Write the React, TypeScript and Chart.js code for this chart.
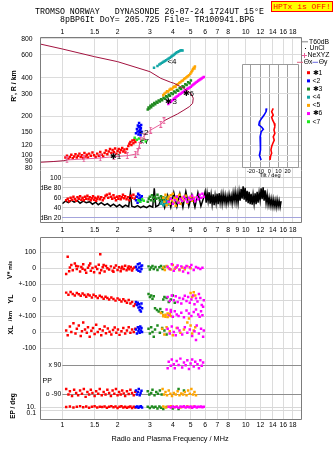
import React, { useEffect, useRef } from "react";
import { Chart, registerables } from "chart.js";

Chart.register(...registerables);

type Pair = [number, number];

const SANS = '"Liberation Sans", Arial, Helvetica, sans-serif';
const MONO = '"Liberation Mono", "DejaVu Sans Mono", monospace';
const TICK_FONT = { family: SANS, size: 6.8 };
const GRID = "#dcdcdc";
const FRAME = "#7c7c7c";

const C = {
  red: "#ff0000",
  blue: "#0000ff",
  green: "#1f8a1f",
  cyan: "#12a6a6",
  orange: "#ffa500",
  magenta: "#ff00ff",
  lime: "#1eea1e",
  maroon: "#a3123f",
  pink: "#e8609a",
};

// ---------- axes ----------
const FREQ_LO = 0.756;
const FREQ_HI = 20.1;
const freqTicks = [1, 1.5, 2, 3, 4, 5, 6, 7, 8, 10, 12, 14, 16, 18];
const freqTicksDb = [1, 1.5, 2, 3, 4, 5, 6, 7, 8, 9, 10, 12, 14, 16, 18];

const HEIGHT_LO = 76.9;
const HEIGHT_HI = 826;
const heightTicks = [80, 90, 100, 120, 150, 200, 300, 400, 600, 800];

const TILT_LO = -29.8;
const TILT_HI = 31.9;
const INSET_H_LO = 80.4;
const INSET_H_HI = 507.6;
const tiltTicks = [-20, -10, 0, 10, 20];

const DB_LO = 11.4;
const DB_HI = 115.4;
const dbTicks = [20, 40, 60, 80, 100];
const dbTickText: Record<number, string> = { 20: "dBn 20", 80: "dBe 80" };

const V_RANGE: Pair = [-941.9, 195.6];
const YL_RANGE: Pair = [-741.9, 395.6];
const XL_RANGE: Pair = [-543.75, 593.75];
const PP_RANGE: Pair = [-248.7, 892.8];
const EP_RANGE: Pair = [0.00187, 2.6e52];

type Row = { axis: string; value: number; text: string; inner?: boolean; strong?: boolean; line?: boolean };
const midRows: Row[] = [
  { axis: "yV", value: 100, text: "100" },
  { axis: "yV", value: 0, text: "0" },
  { axis: "yV", value: -100, text: "+-100" },
  { axis: "yYL", value: 0, text: "0" },
  { axis: "yYL", value: -100, text: "+-100" },
  { axis: "yXL", value: 0, text: "0" },
  { axis: "yXL", value: -100, text: "-100" },
  { axis: "yPP", value: 90, text: "x 90", inner: true, strong: true },
  { axis: "yPP", value: -90, text: "o -90", inner: true, strong: true },
  { axis: "yEP", value: 10, text: "10." },
  { axis: "yEP", value: 1, text: "" },
  { axis: "yEP", value: 0.1, text: "0.1", line: false },
];

const seriesNames = ["✱1", "<2", "✱3", "<4", "<5", "✱6", "<7"];
const seriesColors = [C.red, C.blue, C.green, C.cyan, C.orange, C.magenta, C.lime];

// ---------- real-height profile (MHz, km) ----------
const profileBottom: Pair[] = [[0.756, 88.3], [0.9, 89.5], [1.02, 90.8], [1.06, 92]];
const profileNe: Pair[] = [
  [1.06, 92], [1.31, 93.6], [1.61, 95.3], [1.91, 97.5], [2.26, 99.3], [2.5, 102], [2.58, 106.6],
  [2.63, 120], [2.67, 131], [2.79, 141], [3.03, 157], [3.44, 174], [3.58, 185],
];
const profileTop: Pair[] = [
  [3.58, 185], [3.9, 197], [4.24, 209], [4.6, 224], [4.92, 238], [5.13, 253], [5.17, 277],
  [5.02, 302], [4.6, 330], [4.05, 362], [3.9, 368], [3.44, 395], [3.0, 445], [2.0, 532],
  [1.5, 581], [1.0, 667], [0.756, 729],
];

// ---------- virtual-height echoes (MHz, km) ----------
const rRed: Pair[] = [
  [1.04, 96], [1.06, 99], [1.08, 94], [1.1, 97], [1.12, 101], [1.14, 95], [1.16, 98], [1.18, 102],
  [1.2, 96], [1.22, 99], [1.24, 103], [1.26, 97], [1.28, 100], [1.3, 95], [1.32, 104], [1.34, 98],
  [1.36, 101], [1.38, 96], [1.4, 103], [1.43, 99], [1.46, 105], [1.49, 100], [1.52, 97], [1.55, 103],
  [1.58, 99], [1.61, 106], [1.64, 101], [1.67, 98], [1.7, 104], [1.73, 109], [1.76, 102], [1.79, 107],
  [1.82, 112], [1.85, 104], [1.88, 110], [1.91, 106], [1.94, 113], [1.97, 103], [2.0, 108], [2.03, 112],
  [2.06, 105], [2.09, 110], [2.12, 114], [2.15, 107], [2.18, 111], [2.21, 105], [2.25, 112], [2.29, 118],
  [2.32, 123], [2.35, 127], [2.38, 120], [2.41, 130], [2.44, 124], [2.47, 132], [2.5, 127],
];
const rBlue: Pair[] = [
  [2.52, 148], [2.55, 160], [2.57, 153], [2.58, 170], [2.6, 145], [2.61, 165], [2.62, 178], [2.63, 155],
  [2.64, 150], [2.65, 168], [2.66, 158], [2.67, 143], [2.68, 162], [2.69, 172], [2.7, 152],
];
const rLime: Pair[] = [[2.48, 137], [2.55, 132], [2.62, 135], [2.7, 130], [2.78, 133], [2.85, 128]];
const rGreen: Pair[] = [
  [2.92, 226], [2.95, 235], [2.98, 230], [3.02, 242], [3.05, 236], [3.09, 248], [3.13, 243], [3.17, 254],
  [3.21, 249], [3.26, 260], [3.3, 255], [3.35, 266], [3.4, 261], [3.45, 272], [3.5, 267], [3.56, 279],
  [3.62, 274], [3.68, 287], [3.74, 282], [3.8, 295], [3.86, 290], [3.93, 303], [4.0, 298], [4.07, 312],
  [4.14, 307], [4.21, 321], [4.28, 316], [4.36, 332], [4.44, 327], [4.52, 343], [4.6, 338], [4.68, 355],
  [4.76, 350], [4.85, 368], [4.94, 362], [5.02, 380],
];
const rCyan: Pair[] = [
  [3.16, 477], [3.3, 492], [3.38, 505], [3.44, 515], [3.5, 522], [3.56, 530], [3.62, 538], [3.68, 546],
  [3.74, 554], [3.8, 562], [3.86, 570], [3.92, 580], [3.98, 590], [4.04, 600], [4.1, 610], [4.16, 620],
  [4.22, 628], [4.28, 636], [4.34, 642], [4.4, 648], [4.46, 652], [4.52, 650],
];
const rOrange: Pair[] = [
  [3.55, 292], [3.6, 300], [3.66, 306], [3.72, 314], [3.78, 312], [3.84, 322], [3.9, 328], [3.96, 325],
  [4.02, 336], [4.08, 342], [4.14, 340], [4.2, 352], [4.26, 356], [4.33, 364], [4.4, 368], [4.47, 376],
  [4.54, 380], [4.61, 390], [4.68, 395], [4.75, 402], [4.82, 410], [4.9, 418], [4.98, 428], [5.05, 440],
  [5.1, 452], [5.15, 465], [5.2, 478], [5.25, 470], [5.28, 488],
];
const rMagenta: Pair[] = [
  [3.78, 250], [3.84, 256], [3.9, 260], [3.96, 266], [4.02, 270], [4.08, 276], [4.14, 280], [4.2, 286],
  [4.27, 290], [4.34, 296], [4.41, 300], [4.48, 305], [4.55, 310], [4.63, 316], [4.7, 320], [4.78, 326],
  [4.86, 330], [4.94, 336], [5.02, 340], [5.1, 348], [5.18, 354], [5.26, 360], [5.34, 366], [5.42, 372],
  [5.5, 378], [5.58, 384], [5.66, 388], [5.74, 394], [5.82, 400], [5.9, 404],
];
const traceTags = [
  { text: "✱1", f: 1.95, h: 97 },
  { text: "<2", f: 2.78, h: 150 },
  { text: "<7", f: 2.8, h: 128 },
  { text: "✱3", f: 3.92, h: 262 },
  { text: "<4", f: 3.96, h: 528 },
  { text: "✱6", f: 4.86, h: 300 },
];

// ---------- tilt inset (deg, km) ----------
const tiltRed: Pair[] = [
  [4.3, 231], [2.6, 218], [4.3, 205], [2.6, 197], [3.7, 187], [5.4, 177], [6.1, 167], [5.1, 157],
  [6.1, 148], [4.3, 139], [5.4, 131], [3.7, 123], [2.6, 117], [1.8, 110], [2.6, 104], [1.5, 99], [0.8, 92],
];
const tiltBlue: Pair[] = [
  [-2.8, 231], [-3.5, 218], [-5.7, 205], [-8.2, 194], [-10.8, 182], [-11.4, 172], [-8.2, 165],
  [-6.5, 159], [-8.9, 152], [-10, 139], [-9.2, 124], [-10, 110], [-10.8, 100], [-8.9, 92],
];

// ---------- amplitude (MHz, dB) ----------
const dbNoise: Pair[] = [
  [1.0, 48], [1.04, 53], [1.08, 50], [1.12, 55], [1.16, 51], [1.21, 54], [1.25, 49], [1.3, 53], [1.35, 50],
  [1.41, 52], [1.46, 47], [1.52, 51], [1.57, 46], [1.63, 50], [1.7, 45], [1.76, 48], [1.83, 43], [1.9, 47],
  [1.98, 42], [2.05, 46], [2.13, 41], [2.21, 45], [2.3, 42], [2.35, 70], [2.39, 43], [2.48, 41], [2.57, 44],
  [2.67, 40], [2.77, 43], [2.88, 40], [2.99, 44], [3.11, 41], [3.17, 79], [3.23, 42], [3.35, 45], [3.48, 60],
  [3.61, 40], [3.75, 65], [3.9, 41], [4.05, 70], [4.21, 42], [4.37, 68], [4.54, 41], [4.71, 72], [4.89, 43],
  [5.08, 66], [5.28, 41], [5.48, 70], [5.69, 43], [5.91, 62],
  [6.0, 72], [6.076, 50], [6.152, 69], [6.23, 53], [6.309, 71], [6.388, 48], [6.469, 66], [6.55, 47],
  [6.633, 67], [6.717, 45], [6.801, 64], [6.887, 49], [6.974, 68], [7.062, 47], [7.151, 69], [7.242, 50],
  [7.333, 66], [7.426, 48], [7.519, 67], [7.614, 51], [7.71, 65], [7.808, 48], [7.906, 63], [8.006, 50],
  [8.107, 66], [8.209, 52], [8.313, 64], [8.418, 49], [8.524, 69], [8.631, 53], [8.74, 71], [8.85, 51],
  [8.962, 68], [9.075, 50], [9.19, 72], [9.306, 54], [9.423, 78], [9.542, 58], [9.663, 83], [9.785, 56],
  [9.908, 80], [10.03, 52], [10.16, 74], [10.29, 49], [10.42, 72], [10.55, 47], [10.68, 68], [10.82, 46],
  [10.95, 66], [11.09, 48], [11.23, 69], [11.37, 47], [11.52, 72], [11.66, 50], [11.81, 70], [11.96, 55],
  [12.11, 79], [12.26, 57], [12.42, 81], [12.57, 54], [12.73, 75], [12.89, 50], [13.06, 66], [13.22, 46],
  [13.39, 60], [13.56, 44], [13.73, 58], [13.9, 43], [14.08, 57], [14.25, 42], [14.43, 55], [14.62, 41],
  [14.8, 56], [14.99, 42], [15.18, 54], [15.37, 41], [15.56, 53],
];
const dbRed: Pair[] = [
  [1.05, 55], [1.07, 58], [1.09, 53], [1.11, 60], [1.13, 56], [1.15, 62], [1.17, 57], [1.19, 54], [1.21, 61],
  [1.23, 58], [1.25, 63], [1.27, 56], [1.29, 60], [1.31, 55], [1.33, 62], [1.35, 58], [1.37, 64], [1.39, 57],
  [1.41, 61], [1.43, 55], [1.45, 59], [1.47, 63], [1.49, 56], [1.51, 60], [1.53, 54], [1.55, 58], [1.57, 62],
  [1.6, 57], [1.63, 61], [1.66, 55], [1.69, 59], [1.72, 64], [1.75, 66], [1.78, 60], [1.81, 68], [1.84, 62],
  [1.87, 58], [1.9, 65], [1.93, 60], [1.96, 55], [1.99, 62], [2.02, 58], [2.05, 63], [2.08, 57], [2.11, 61],
  [2.14, 66], [2.17, 59], [2.2, 63], [2.24, 57], [2.28, 61], [2.32, 55], [2.36, 64], [2.4, 60], [2.44, 66],
  [2.48, 58], [2.52, 62],
];
const dbBlue: Pair[] = [
  [2.52, 55], [2.55, 62], [2.57, 50], [2.59, 68], [2.61, 58], [2.63, 65], [2.65, 52], [2.67, 60], [2.69, 56], [2.71, 63],
];
const dbLime: Pair[] = [[2.6, 55], [2.66, 52], [2.72, 57], [2.78, 54]];
const dbGreen: Pair[] = [
  [2.92, 52], [2.96, 58], [3.0, 62], [3.04, 55], [3.08, 65], [3.12, 60], [3.16, 53], [3.2, 62], [3.25, 58],
  [3.3, 66], [3.35, 60], [3.4, 55], [3.45, 63], [3.5, 58], [3.55, 61], [3.6, 56], [3.7, 60], [3.8, 54], [3.9, 58],
];
const dbCyan: Pair[] = [[3.45, 48], [3.5, 52], [3.55, 45], [3.6, 50], [3.65, 47], [3.7, 53], [3.75, 46], [3.8, 50]];
const dbOrange: Pair[] = [
  [3.55, 60], [3.6, 52], [3.65, 66], [3.7, 45], [3.75, 58], [3.8, 62], [3.85, 48], [3.9, 65], [3.95, 55],
  [4.0, 68], [4.05, 50], [4.1, 60], [4.15, 44], [4.2, 57], [4.25, 63], [4.3, 52], [4.35, 66], [4.4, 48],
  [4.5, 60], [4.6, 55], [4.7, 64], [4.8, 50], [4.9, 58], [5.0, 62], [5.1, 54], [5.2, 60],
];
const dbMagenta: Pair[] = [
  [3.8, 52], [3.9, 58], [4.0, 48], [4.1, 55], [4.2, 62], [4.3, 50], [4.4, 58], [4.5, 54], [4.6, 62], [4.7, 57],
  [4.8, 52], [4.9, 60], [5.0, 56], [5.1, 64], [5.2, 58], [5.3, 53], [5.4, 61], [5.5, 57], [5.6, 66], [5.7, 60],
  [5.8, 68], [5.9, 62],
];

// ---------- doppler velocity V* (m/s) ----------
const vRed: Pair[] = [
  [1.05, -35], [1.07, 72], [1.09, -18], [1.1, 5], [1.12, 20], [1.14, -12], [1.17, 30], [1.19, 15], [1.2, -5],
  [1.22, 12], [1.25, -20], [1.27, 8], [1.29, -3], [1.3, 25], [1.33, -10], [1.35, -28], [1.38, 4], [1.4, 18],
  [1.42, 30], [1.43, -15], [1.46, 2], [1.49, -25], [1.52, 10], [1.55, -5], [1.58, 22], [1.6, -30], [1.61, 88],
  [1.63, -12], [1.66, 6], [1.68, 20], [1.7, -20], [1.73, 14], [1.76, 0], [1.8, -8], [1.84, 12], [1.88, -15],
  [1.9, -22], [1.92, 4], [1.96, 18], [2.0, -10], [2.04, 6], [2.08, -18], [2.1, -2], [2.12, 10], [2.16, -4],
  [2.2, 16], [2.24, -12], [2.28, 2], [2.3, 12], [2.32, -6], [2.36, 8], [2.4, -14], [2.42, -2], [2.47, 5],
];
const vBlue: Pair[] = [[2.52, 10], [2.55, -8], [2.58, 25], [2.6, -15], [2.62, 5], [2.64, 30], [2.66, -20], [2.68, 12], [2.7, -5], [2.72, 18]];
const vGreen: Pair[] = [[2.95, 12], [3.0, -8], [3.05, 5], [3.1, 15], [3.15, -5], [3.22, 8], [3.3, -10], [3.38, 6], [3.45, 14], [3.52, -4], [3.6, 10]];
const vOrange: Pair[] = [[3.55, 5], [3.62, -10], [3.7, 15], [3.8, 0], [3.9, -8], [4.0, 20], [4.1, -3], [4.2, 8], [4.35, -12], [4.5, 5], [4.65, -6], [4.8, 12], [5.0, 0]];
const vMagenta: Pair[] = [
  [3.75, 10], [3.85, -5], [3.95, 25], [4.05, -15], [4.15, 5], [4.25, 18], [4.35, -8], [4.45, 12], [4.55, -20],
  [4.65, 3], [4.75, 15], [4.85, -30], [4.95, 6], [5.05, 20], [5.2, -10], [5.35, 8], [5.5, 2], [5.65, -5], [5.8, 4],
];

// ---------- echo location YL / XL (km) ----------
const ylRed: Pair[] = [
  [1.05, 48], [1.08, 35], [1.11, 52], [1.14, 40], [1.17, 30], [1.2, 45], [1.23, 38], [1.26, 28], [1.29, 42],
  [1.32, 33], [1.35, 22], [1.38, 36], [1.41, 30], [1.45, 18], [1.48, 34], [1.52, 25], [1.56, 14], [1.6, 28],
  [1.64, 20], [1.68, 10], [1.72, 22], [1.76, 15], [1.8, 5], [1.85, 18], [1.9, 8], [1.95, -2], [2.0, 12],
  [2.05, 4], [2.1, -8], [2.15, 6], [2.2, -5], [2.25, -15], [2.3, 2], [2.35, -20], [2.4, -10], [2.45, -35], [2.5, -25],
];
const ylBlue: Pair[] = [[2.52, -10], [2.55, -30], [2.58, -15], [2.6, -45], [2.62, -25], [2.64, -60], [2.66, -40], [2.68, -70], [2.7, -20], [2.72, -50]];
const ylGreen: Pair[] = [
  [2.95, 40], [3.0, 20], [3.05, 30], [3.1, 10], [3.15, 25], [3.2, -50], [3.28, -60], [3.35, -70], [3.42, -55],
  [3.5, -75], [3.55, 5], [3.6, 20], [3.7, 15], [3.8, -10], [3.9, 5], [4.0, 30], [4.1, -15],
];
const ylOrange: Pair[] = [[3.45, -80], [3.55, -100], [3.65, -90], [3.75, -105], [3.85, -85], [5.0, 45], [5.1, 20], [5.2, 50], [5.3, 30]];
const ylMagenta: Pair[] = [
  [3.75, 20], [3.85, -5], [3.9, -60], [3.95, 30], [4.05, 0], [4.15, 25], [4.25, -10], [4.35, 15], [4.45, -20],
  [4.55, 10], [4.65, 28], [4.75, -5], [4.85, 20], [4.95, -15], [5.05, 5], [5.15, 30], [5.25, -25], [5.35, 12],
  [5.45, -8], [5.55, 40], [5.65, 15], [5.75, -30], [5.85, -40], [5.9, 0],
];
const xlRed: Pair[] = [
  [1.05, 10], [1.07, -20], [1.1, 35], [1.12, 0], [1.15, 55], [1.18, -10], [1.2, 20], [1.23, 40], [1.26, -25],
  [1.28, 5], [1.3, 60], [1.33, 15], [1.36, -5], [1.38, 30], [1.41, -30], [1.44, 8], [1.47, 25], [1.5, -12],
  [1.53, 45], [1.56, 0], [1.6, 18], [1.63, -20], [1.66, 10], [1.7, 35], [1.73, -8], [1.77, 22], [1.81, 2],
  [1.85, -15], [1.89, 12], [1.93, 28], [1.97, -5], [2.01, 15], [2.05, -18], [2.1, 5], [2.15, 25], [2.2, -10],
  [2.25, 10], [2.3, 30], [2.35, -5], [2.4, 15], [2.45, 0], [2.5, 20],
];
const xlBlue: Pair[] = [[2.52, 15], [2.55, -10], [2.58, 30], [2.6, 5], [2.62, 20], [2.64, -5], [2.66, 35], [2.68, 10], [2.7, 25], [2.72, 0]];
const xlGreen: Pair[] = [[2.95, 20], [3.0, -10], [3.05, 30], [3.1, 0], [3.15, -30], [3.2, 15], [3.3, 40], [3.4, -5], [3.5, 25], [3.6, 10], [3.7, -15]];
const xlOrange: Pair[] = [
  [3.45, 120], [3.55, 105], [3.65, 95], [3.75, 115], [3.9, 100], [3.5, 20], [3.6, -15], [3.7, 30], [3.85, 5],
  [4.0, -20], [4.2, 25], [4.4, -5], [4.6, 15], [4.8, 60], [4.9, 85], [5.0, 40], [5.1, -10], [5.2, 10], [5.3, 30],
];
const xlMagenta: Pair[] = [
  [3.7, 140], [3.8, 105], [3.9, 125], [4.0, 95], [4.1, 130], [4.2, 110], [4.3, 100], [4.45, 120], [4.6, 92],
  [4.75, 135], [4.9, 115], [5.05, 100], [5.2, 125], [5.35, 140], [5.5, 110], [5.6, 95], [5.7, 130], [5.8, 105],
  [3.75, 20], [3.85, -10], [3.95, 35], [4.05, 0], [4.15, -20], [4.25, 25], [4.35, 10], [4.5, -15], [4.65, 30],
  [4.8, -5], [4.95, 15], [5.1, -25], [5.25, 5], [5.4, 40], [5.55, -10], [5.7, 20], [5.85, -30], [5.9, 10], [5.35, -50],
];

// ---------- polarization PP (deg) ----------
const ppRed: Pair[] = [
  [1.05, -60], [1.08, -95], [1.1, -75], [1.13, -105], [1.16, -65], [1.19, -85], [1.22, -100], [1.25, -70],
  [1.28, -90], [1.31, -60], [1.34, -110], [1.37, -80], [1.4, -95], [1.43, -65], [1.46, -85], [1.5, -105],
  [1.53, -75], [1.57, -90], [1.6, -60], [1.64, -100], [1.68, -80], [1.72, -95], [1.76, -65], [1.8, -85],
  [1.84, -105], [1.88, -70], [1.92, -90], [1.96, -60], [2.0, -100], [2.04, -80], [2.08, -95], [2.12, -70],
  [2.16, -88], [2.2, -105], [2.25, -75], [2.3, -92], [2.35, -65], [2.4, -85], [2.45, -100], [2.5, -78],
];
const ppBlue: Pair[] = [[2.52, -70], [2.55, -95], [2.58, -80], [2.61, -60], [2.64, -100], [2.67, -85], [2.7, -72]];
const ppGreen: Pair[] = [[2.92, -75], [2.98, -95], [3.05, -85], [3.1, -65], [3.18, -100], [3.25, -80], [3.32, -90], [3.4, -70], [3.48, -95], [4.3, -60], [4.6, -70]];
const ppOrange: Pair[] = [
  [3.52, -60], [3.58, -95], [3.65, -80], [3.72, -100], [3.8, -70], [3.88, -90], [3.96, -105], [4.05, -85],
  [4.15, -95], [4.25, -75], [4.35, -100], [4.45, -88], [4.55, -95], [4.65, -80], [4.75, -100], [4.85, -70],
  [4.95, -90], [5.05, -60], [5.15, -95], [5.25, -80], [5.35, -100],
];
const ppMagenta: Pair[] = [
  [3.75, 70], [3.8, 110], [3.9, 85], [3.95, 125], [4.05, 95], [4.1, 70], [4.2, 115], [4.3, 90], [4.4, 130],
  [4.5, 75], [4.6, 105], [4.7, 88], [4.8, 120], [4.9, 65], [5.0, 100], [5.1, 125], [5.2, 80], [5.3, 110],
  [5.45, 95], [5.55, 70], [5.65, 120], [5.75, 85], [5.85, 105],
];

// ---------- EP (deg, log) ----------
const epRed: Pair[] = [
  [1.05, 8], [1.1, 12], [1.15, 6], [1.2, 10], [1.25, 15], [1.3, 7], [1.35, 11], [1.4, 5], [1.45, 9], [1.5, 14],
  [1.55, 6], [1.6, 10], [1.65, 8], [1.7, 12], [1.75, 5], [1.8, 9], [1.85, 15], [1.9, 7], [1.95, 11], [2.0, 4],
  [2.05, 9], [2.1, 13], [2.15, 6], [2.2, 10], [2.25, 5], [2.3, 8], [2.35, 12], [2.4, 4], [2.45, 9], [2.5, 6],
];
const epBlue: Pair[] = [[2.52, 8], [2.56, 12], [2.6, 5], [2.64, 10], [2.68, 15], [2.72, 6]];
const epGreen: Pair[] = [[2.92, 10], [3.0, 4], [3.08, 12], [3.15, 6], [3.22, 9], [3.3, 3], [3.38, 11], [3.45, 5], [3.55, 2], [3.7, 8], [4.0, 3], [4.3, 2]];
const epOrange: Pair[] = [[3.55, 12], [3.65, 6], [3.75, 10], [3.9, 15], [4.05, 8], [4.2, 12], [4.4, 6], [4.6, 10], [4.8, 14], [5.0, 7], [5.2, 11]];
const epMagenta: Pair[] = [
  [3.8, 9], [3.9, 6], [4.0, 12], [4.1, 7], [4.2, 10], [4.3, 5], [4.4, 11], [4.5, 8], [4.6, 13], [4.7, 6],
  [4.8, 10], [4.9, 7], [5.0, 12], [5.1, 5], [5.2, 9], [5.3, 11], [5.4, 6], [5.5, 10], [5.6, 8], [5.7, 12],
  [5.8, 7], [5.9, 9],
];

// ---------- helpers ----------
const pts = (a: Pair[]) => a.map(([x, y]) => ({ x, y }));

function cloud(data: Pair[], color: string, yAxisID = "y", r = 1.75) {
  return {
    data: pts(data), yAxisID, showLine: false, pointStyle: "rect", pointRadius: r, pointBorderWidth: 0,
    pointBackgroundColor: color, backgroundColor: color, borderColor: color,
  };
}
function trace(data: Pair[], color: string, width = 1, yAxisID = "y") {
  return {
    data: pts(data), yAxisID, showLine: true, borderColor: color, borderWidth: width, pointRadius: 0,
    backgroundColor: color, fill: false, tension: 0,
  };
}

// fixed axis boxes: labels stay inside the box, edge padding is dropped
const fixW = (w: number) => (s: any) => { s.width = w; s.paddingTop = 0; s.paddingBottom = 0; };
const fixH = (h: number) => (s: any) => { s.height = h; s.paddingLeft = 0; s.paddingRight = 0; };

function freqAxis(position: "top" | "bottom", min: number, ticks: number[], pad: number, boxH: number) {
  return {
    type: "logarithmic", position, min, max: FREQ_HI,
    afterBuildTicks: (s: any) => { s.ticks = ticks.map((value) => ({ value })); },
    afterFit: fixH(boxH),
    ticks: {
      autoSkip: false, maxRotation: 0, minRotation: 0, padding: pad, color: "#000", font: TICK_FONT,
      callback: (v: number) => String(v),
    },
    grid: { color: GRID, drawTicks: false },
    border: { display: false },
  };
}

function baseOptions(padding: any) {
  return {
    responsive: false,
    animation: false,
    events: [],
    layout: { padding },
    plugins: { legend: { display: false }, tooltip: { enabled: false } },
  };
}

function framePlugin(o: { leftX?: number; top?: boolean; bottom?: boolean; color?: string }) {
  return {
    id: "frame",
    afterDraw(chart: any) {
      const { ctx, chartArea: a } = chart;
      const L = Math.floor(o.leftX !== undefined ? o.leftX : a.left) + 0.5;
      const R = Math.floor(a.right) + 0.5;
      const T = Math.floor(a.top) + 0.5;
      const B = Math.floor(a.bottom) + 0.5;
      ctx.save();
      ctx.strokeStyle = o.color || FRAME;
      ctx.lineWidth = 1;
      ctx.beginPath();
      ctx.moveTo(L, T); ctx.lineTo(L, B);
      ctx.moveTo(R, T); ctx.lineTo(R, B);
      if (o.top) { ctx.moveTo(L, T); ctx.lineTo(R, T); }
      if (o.bottom) { ctx.moveTo(L, B); ctx.lineTo(R, B); }
      ctx.stroke();
      ctx.restore();
    },
  };
}

const whiteArea = {
  id: "whiteArea",
  beforeDraw(chart: any) {
    const { ctx, chartArea: a } = chart;
    ctx.save();
    ctx.fillStyle = "#fff";
    ctx.fillRect(a.left, a.top, a.right - a.left, a.bottom - a.top);
    ctx.restore();
  },
};

const tagPlugin = {
  id: "tags",
  afterDatasetsDraw(chart: any) {
    const { ctx, scales } = chart;
    ctx.save();
    ctx.font = `8px ${SANS}`;
    ctx.fillStyle = "#000";
    ctx.textAlign = "center";
    ctx.textBaseline = "middle";
    traceTags.forEach((t) => {
      ctx.fillText(t.text, scales.x.getPixelForValue(t.f), scales.y.getPixelForValue(t.h));
    });
    ctx.restore();
  },
};

const legendPlugin = {
  id: "keys",
  afterDraw(chart: any) {
    const g = chart.ctx;
    g.save();
    g.font = `6.8px ${SANS}`;
    g.textBaseline = "middle";
    g.textAlign = "left";
    const seg = (x1: number, x2: number, y: number, color: string, w: number) => {
      g.strokeStyle = color; g.lineWidth = w; g.beginPath(); g.moveTo(x1, y); g.lineTo(x2, y); g.stroke();
    };
    seg(302, 308, 41.7, "#a8a8a8", 1.5);
    g.fillStyle = "#000";
    g.fillText("T60dB", 309, 41.7);
    g.fillRect(305, 48, 1, 1);
    g.fillText("UnCl", 309.5, 48.3);
    g.strokeStyle = C.pink; g.lineWidth = 1;
    g.beginPath(); g.moveTo(302, 55.5); g.lineTo(307, 55.5); g.moveTo(304.5, 53); g.lineTo(304.5, 58); g.stroke();
    g.fillText("NeXYZ", 307.5, 55.3);
    seg(297, 303, 62.3, "#e06080", 1);
    g.fillStyle = "#000";
    g.fillText("Θx", 303.8, 62.3);
    seg(312.5, 318, 62.3, "#6a6ae0", 1);
    g.fillStyle = "#000";
    g.fillText("Θy", 318.8, 62.3);
    seriesNames.forEach((name, i) => {
      const y = 72.7 + i * 8.17;
      g.fillStyle = seriesColors[i];
      g.fillRect(307, y - 1.5, 3, 3);
      g.fillStyle = "#000";
      g.fillText(name, 312.5, y);
    });
    g.restore();
  },
};

const rowsPlugin = {
  id: "rows",
  beforeDatasetsDraw(chart: any) {
    const { ctx, chartArea: a, scales } = chart;
    const inner = scales.x.getPixelForValue(1);
    ctx.save();
    midRows.forEach((r) => {
      if (r.line === false) return;
      const y = Math.round(scales[r.axis].getPixelForValue(r.value)) + 0.5;
      ctx.strokeStyle = r.strong ? "#8e8e8e" : "#d8d8d8";
      ctx.lineWidth = 1;
      ctx.beginPath();
      ctx.moveTo(r.inner ? inner : a.left, y);
      ctx.lineTo(a.right, y);
      ctx.stroke();
    });
    ctx.restore();
  },
  afterDraw(chart: any) {
    const { ctx, chartArea: a, scales } = chart;
    const inner = scales.x.getPixelForValue(1);
    ctx.save();
    ctx.font = `6.8px ${SANS}`;
    ctx.fillStyle = "#000";
    ctx.textAlign = "right";
    ctx.textBaseline = "middle";
    midRows.forEach((r) => {
      if (!r.text) return;
      const y = scales[r.axis].getPixelForValue(r.value);
      ctx.fillText(r.text, r.inner ? inner - 1 : a.left - 4, y);
    });
    ctx.restore();
  },
};

function neMark(color: string) {
  const c = document.createElement("canvas");
  c.width = 5;
  c.height = 7;
  const g = c.getContext("2d")!;
  g.fillStyle = color;
  g.fillRect(2, 0, 1, 7);
  g.fillRect(1, 0, 3, 1);
  g.fillRect(1, 6, 3, 1);
  return c;
}

function Txt(p: any) {
  const { x, y, size, anchor = "middle", rotate = 0, bold = false, font = SANS, color = "#000", children } = p;
  const tx = anchor === "start" ? "0" : anchor === "end" ? "-100%" : "-50%";
  return (
    <div
      style={{
        position: "absolute", left: x, top: y, transform: `translate(${tx}, -50%) rotate(${rotate}deg)`,
        fontSize: size, fontFamily: font, fontWeight: bold ? "bold" : "normal", color, whiteSpace: "pre", lineHeight: 1,
      }}
    >
      {children}
    </div>
  );
}

const canvasStyle: React.CSSProperties = { position: "absolute", left: 0, top: 0 };

export default function App() {
  const rRef = useRef<HTMLCanvasElement>(null);
  const tiltRef = useRef<HTMLCanvasElement>(null);
  const dbRef = useRef<HTMLCanvasElement>(null);
  const midRef = useRef<HTMLCanvasElement>(null);

  useEffect(() => {
    const charts: Chart[] = [];

    // virtual / real height panel
    charts.push(
      new Chart(rRef.current!, {
        type: "scatter",
        data: {
          datasets: [
            trace(profileBottom, C.maroon),
            { ...trace(profileNe, C.pink), pointRadius: 3, pointStyle: neMark(C.pink) },
            trace(profileTop, C.maroon),
            cloud(rMagenta, C.magenta),
            cloud(rOrange, C.orange),
            cloud(rGreen, C.green),
            cloud(rCyan, C.cyan),
            cloud(rLime, C.lime),
            cloud(rBlue, C.blue),
            cloud(rRed, C.red),
          ] as any,
        },
        options: {
          ...baseOptions({ left: 0, right: 33.5, top: 0, bottom: 281 }),
          scales: {
            x: freqAxis("top", FREQ_LO, freqTicks, 0.5, 37),
            y: {
              type: "logarithmic", min: HEIGHT_LO, max: HEIGHT_HI,
              afterBuildTicks: (s: any) => { s.ticks = heightTicks.map((value) => ({ value })); },
              afterFit: fixW(40),
              ticks: { autoSkip: false, padding: 7.5, color: "#000", font: TICK_FONT, callback: (v: number) => String(v) },
              grid: { color: GRID, drawTicks: false },
              border: { display: false },
            },
          },
        } as any,
        plugins: [framePlugin({ top: true }), tagPlugin, legendPlugin],
      })
    );

    // tilt inset
    charts.push(
      new Chart(tiltRef.current!, {
        type: "scatter",
        data: { datasets: [trace(tiltRed, C.red, 1.6), trace(tiltBlue, C.blue, 1.6)] as any },
        options: {
          ...baseOptions({ left: 242, right: 36.5, top: 64.3, bottom: 275.5 }),
          scales: {
            x: {
              type: "linear", position: "bottom", min: TILT_LO, max: TILT_HI,
              afterBuildTicks: (s: any) => { s.ticks = tiltTicks.map((value) => ({ value })); },
              afterFit: fixH(8),
              ticks: { autoSkip: false, maxRotation: 0, padding: 0.5, color: "#000", font: { family: SANS, size: 5.6 } },
              grid: { color: "#a0a0a0", drawTicks: false },
              border: { display: false },
            },
            y: {
              type: "logarithmic", min: INSET_H_LO, max: INSET_H_HI,
              afterBuildTicks: (s: any) => { s.ticks = heightTicks.filter((v) => v <= 400).map((value) => ({ value })); },
              afterFit: fixW(0),
              ticks: { display: false },
              grid: { color: GRID, drawTicks: false },
              border: { display: false },
            },
          },
        } as any,
        plugins: [whiteArea, framePlugin({ top: true, bottom: true, color: "#9a9a9a" })],
      })
    );

    // amplitude panel
    charts.push(
      new Chart(dbRef.current!, {
        type: "scatter",
        data: {
          datasets: [
            cloud(dbMagenta, C.magenta),
            cloud(dbOrange, C.orange),
            cloud(dbCyan, C.cyan),
            cloud(dbGreen, C.green),
            cloud(dbLime, C.lime),
            cloud(dbBlue, C.blue),
            cloud(dbRed, C.red),
            trace(dbNoise, "#000", 1.5),
          ] as any,
        },
        options: {
          ...baseOptions({ left: 0, right: 33.5, top: 170, bottom: 215 }),
          scales: {
            x: freqAxis("bottom", 1.0, freqTicksDb, 3.8, 14),
            y: {
              type: "linear", min: DB_LO, max: DB_HI,
              afterBuildTicks: (s: any) => { s.ticks = dbTicks.map((value) => ({ value })); },
              afterFit: fixW(62.3),
              ticks: {
                autoSkip: false, padding: 1, color: "#000", font: TICK_FONT,
                callback: (v: number) => dbTickText[v] || String(v),
              },
              grid: { color: (c: any) => (c.tick && c.tick.value === 20 ? "#a4a4dc" : "#d0d0d0"), drawTicks: false },
              border: { display: false },
            },
          },
        } as any,
        plugins: [framePlugin({ leftX: 40, bottom: true })],
      })
    );

    // velocity / location / polarization / EP panel
    charts.push(
      new Chart(midRef.current!, {
        type: "scatter",
        data: {
          datasets: [
            cloud(vMagenta, C.magenta, "yV"), cloud(vOrange, C.orange, "yV"), cloud(vGreen, C.green, "yV"),
            cloud(vBlue, C.blue, "yV"), cloud(vRed, C.red, "yV"),
            cloud(ylMagenta, C.magenta, "yYL"), cloud(ylOrange, C.orange, "yYL"), cloud(ylGreen, C.green, "yYL"),
            cloud(ylBlue, C.blue, "yYL"), cloud(ylRed, C.red, "yYL"),
            cloud(xlMagenta, C.magenta, "yXL"), cloud(xlOrange, C.orange, "yXL"), cloud(xlGreen, C.green, "yXL"),
            cloud(xlBlue, C.blue, "yXL"), cloud(xlRed, C.red, "yXL"),
            cloud(ppMagenta, C.magenta, "yPP"), cloud(ppOrange, C.orange, "yPP"), cloud(ppGreen, C.green, "yPP"),
            cloud(ppBlue, C.blue, "yPP"), cloud(ppRed, C.red, "yPP"),
            cloud(epMagenta, C.magenta, "yEP"), cloud(epOrange, C.orange, "yEP"), cloud(epGreen, C.green, "yEP"),
            cloud(epBlue, C.blue, "yEP"), cloud(epRed, C.red, "yEP"),
          ] as any,
        },
        options: {
          ...baseOptions({ left: 40, right: 33.5, top: 237, bottom: 18 }),
          scales: {
            x: freqAxis("bottom", FREQ_LO, freqTicks, 1.6, 14),
            yV: { type: "linear", display: false, min: V_RANGE[0], max: V_RANGE[1] },
            yYL: { type: "linear", display: false, min: YL_RANGE[0], max: YL_RANGE[1] },
            yXL: { type: "linear", display: false, min: XL_RANGE[0], max: XL_RANGE[1] },
            yPP: { type: "linear", display: false, min: PP_RANGE[0], max: PP_RANGE[1] },
            yEP: { type: "logarithmic", display: false, min: EP_RANGE[0], max: EP_RANGE[1] },
          },
        } as any,
        plugins: [rowsPlugin, framePlugin({ top: true, bottom: true })],
      })
    );

    return () => charts.forEach((c) => c.destroy());
  }, []);

  return (
    <div style={{ position: "absolute", left: 0, top: 0, width: 335, height: 451, background: "#fff", overflow: "hidden", fontFamily: SANS }}>
      <canvas ref={rRef} width={335} height={451} style={canvasStyle} />
      <canvas ref={tiltRef} width={335} height={451} style={canvasStyle} />
      <canvas ref={dbRef} width={335} height={451} style={canvasStyle} />
      <canvas ref={midRef} width={335} height={451} style={canvasStyle} />

      <Txt x={35} y={12.2} size={8.3} anchor="start" font={MONO}>TROMSO NORWAY   DYNASONDE 26-07-24 1724UT 15°E</Txt>
      <Txt x={60} y={20} size={8.3} anchor="start" font={MONO}>8pBP6It DoY= 205.725 File= TR100941.BPG</Txt>
      <div
        style={{
          position: "absolute", left: 271, top: 1, width: 62, height: 11, boxSizing: "border-box",
          background: "#ffff00", border: "1px solid #ff0000", color: "#ff0000", fontFamily: MONO,
          fontSize: 8, lineHeight: "9px", textAlign: "center", whiteSpace: "pre",
        }}
      >
        HPTx is OFF!
      </div>

      <Txt x={12.5} y={86} size={7} bold rotate={-90}>R', R / km</Txt>
      <Txt x={9} y={270} size={7} bold rotate={-90}>
        V* <span style={{ fontSize: 5 }}>m/s</span>
      </Txt>
      <Txt x={9.5} y={299} size={7} bold rotate={-90}>YL</Txt>
      <Txt x={9.5} y={316} size={6} bold rotate={-90}>/km</Txt>
      <Txt x={9.5} y={330} size={7} bold rotate={-90}>XL</Txt>
      <Txt x={13} y={406} size={6.5} bold rotate={-90}>EP / deg</Txt>
      <Txt x={42.5} y={380} size={7} anchor="start">PP</Txt>
      <Txt x={270} y={176} size={5.6}>Tilt / deg</Txt>
      <Txt x={170} y={439.3} size={7.3}>Radio and Plasma Frequency / MHz</Txt>
    </div>
  );
}
